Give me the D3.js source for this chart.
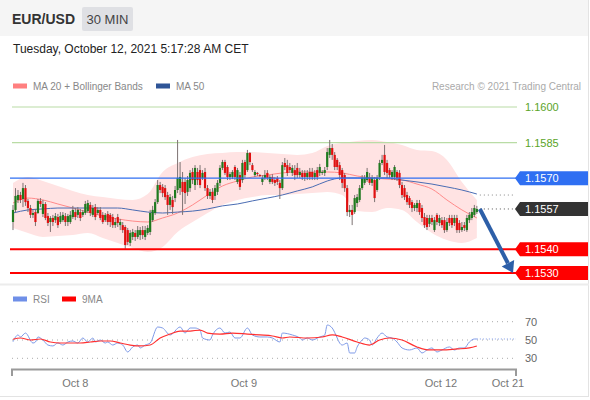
<!DOCTYPE html>
<html>
<head>
<meta charset="utf-8">
<script src="https://cdn.jsdelivr.net/npm/d3@7"></script>
<style>
  body { margin: 0; background: #fff; }
  svg text { font-family: "Liberation Sans", Arial, sans-serif; }
</style>
</head>
<body>
<div id="chart"></div>
<script>
// 30 min candles, [open, high, low, close]
var candles = [
  [1.15515,1.15587,1.15481,1.15566],[1.15566,1.15658,1.15557,1.15625],[1.15608,1.15650,1.15595,1.15629],[1.15629,1.15642,1.15595,1.15608],
  [1.15612,1.15680,1.15578,1.15658],[1.15658,1.15671,1.15583,1.15599],[1.15604,1.15612,1.15557,1.15574],[1.15574,1.15587,1.15532,1.15545],
  [1.15545,1.15566,1.15532,1.15553],[1.15557,1.15570,1.15498,1.15515],[1.15553,1.15612,1.15549,1.15604],[1.15604,1.15616,1.15578,1.15591],
  [1.15549,1.15608,1.15536,1.15591],[1.15591,1.15599,1.15523,1.15532],[1.15540,1.15553,1.15498,1.15511],[1.15515,1.15540,1.15473,1.15532],
  [1.15532,1.15545,1.15498,1.15515],[1.15523,1.15553,1.15511,1.15540],[1.15536,1.15549,1.15490,1.15502],[1.15515,1.15557,1.15507,1.15540],
  [1.15523,1.15557,1.15515,1.15545],[1.15540,1.15553,1.15498,1.15515],[1.15515,1.15549,1.15498,1.15540],[1.15515,1.15561,1.15507,1.15545],
  [1.15536,1.15583,1.15528,1.15566],[1.15557,1.15574,1.15523,1.15536],[1.15545,1.15578,1.15532,1.15566],[1.15557,1.15570,1.15519,1.15532],
  [1.15545,1.15566,1.15536,1.15557],[1.15553,1.15604,1.15545,1.15591],[1.15561,1.15608,1.15553,1.15595],[1.15587,1.15599,1.15540,1.15553],
  [1.15545,1.15587,1.15536,1.15574],[1.15578,1.15591,1.15523,1.15536],[1.15553,1.15578,1.15545,1.15566],[1.15566,1.15578,1.15523,1.15532],
  [1.15545,1.15557,1.15507,1.15515],[1.15523,1.15553,1.15515,1.15545],[1.15549,1.15561,1.15502,1.15515],[1.15545,1.15553,1.15494,1.15515],
  [1.15536,1.15549,1.15490,1.15502],[1.15502,1.15532,1.15490,1.15515],[1.15536,1.15549,1.15494,1.15511],[1.15502,1.15528,1.15481,1.15515],
  [1.15502,1.15515,1.15469,1.15481],[1.15494,1.15502,1.15397,1.15418],[1.15481,1.15490,1.15418,1.15431],[1.15427,1.15481,1.15414,1.15469],
  [1.15452,1.15486,1.15439,1.15473],[1.15469,1.15481,1.15435,1.15452],[1.15452,1.15498,1.15443,1.15481],[1.15460,1.15494,1.15439,1.15481],
  [1.15481,1.15498,1.15443,1.15460],[1.15452,1.15498,1.15439,1.15481],[1.15469,1.15502,1.15460,1.15490],[1.15473,1.15566,1.15460,1.15553],
  [1.15523,1.15583,1.15515,1.15566],[1.15553,1.15612,1.15545,1.15599],[1.15599,1.15692,1.15591,1.15671],[1.15671,1.15684,1.15637,1.15650],
  [1.15663,1.15675,1.15620,1.15637],[1.15658,1.15671,1.15608,1.15620],[1.15629,1.15642,1.15545,1.15587],[1.15587,1.15633,1.15566,1.15620],
  [1.15608,1.15625,1.15549,1.15578],[1.15616,1.15667,1.15599,1.15650],[1.15650,1.15861,1.15637,1.15701],[1.15658,1.15768,1.15629,1.15705],
  [1.15684,1.15726,1.15545,1.15642],[1.15684,1.15701,1.15591,1.15637],[1.15642,1.15709,1.15625,1.15692],[1.15658,1.15734,1.15642,1.15722],
  [1.15726,1.15743,1.15675,1.15692],[1.15671,1.15755,1.15650,1.15743],[1.15726,1.15743,1.15671,1.15692],[1.15734,1.15755,1.15658,1.15671],
  [1.15701,1.15734,1.15692,1.15722],[1.15726,1.15743,1.15646,1.15658],[1.15658,1.15671,1.15612,1.15625],[1.15625,1.15654,1.15612,1.15642],
  [1.15642,1.15658,1.15595,1.15608],[1.15625,1.15671,1.15608,1.15658],[1.15642,1.15692,1.15629,1.15680],[1.15680,1.15755,1.15667,1.15743],
  [1.15743,1.15777,1.15734,1.15768],[1.15768,1.15777,1.15713,1.15722],[1.15747,1.15755,1.15692,1.15705],[1.15705,1.15726,1.15692,1.15717],
  [1.15705,1.15734,1.15696,1.15726],[1.15747,1.15755,1.15692,1.15705],[1.15684,1.15743,1.15675,1.15734],[1.15713,1.15726,1.15650,1.15663],
  [1.15692,1.15777,1.15680,1.15764],[1.15768,1.15777,1.15701,1.15713],[1.15734,1.15819,1.15726,1.15806],[1.15806,1.15810,1.15755,1.15768],
  [1.15755,1.15764,1.15726,1.15734],[1.15713,1.15734,1.15705,1.15726],[1.15722,1.15726,1.15709,1.15717],[1.15713,1.15717,1.15705,1.15709],
  [1.15684,1.15713,1.15671,1.15701],[1.15701,1.15734,1.15692,1.15713],[1.15722,1.15734,1.15692,1.15701],[1.15684,1.15713,1.15675,1.15705],
  [1.15705,1.15717,1.15675,1.15684],[1.15692,1.15705,1.15667,1.15680],[1.15701,1.15709,1.15671,1.15684],[1.15680,1.15692,1.15612,1.15658],
  [1.15658,1.15768,1.15650,1.15755],[1.15764,1.15785,1.15734,1.15747],[1.15755,1.15777,1.15709,1.15722],[1.15747,1.15764,1.15722,1.15734],
  [1.15722,1.15755,1.15709,1.15743],[1.15734,1.15755,1.15692,1.15713],[1.15743,1.15764,1.15701,1.15713],[1.15713,1.15743,1.15701,1.15726],
  [1.15722,1.15734,1.15692,1.15705],[1.15722,1.15734,1.15688,1.15705],[1.15705,1.15734,1.15692,1.15722],[1.15726,1.15743,1.15692,1.15705],
  [1.15726,1.15743,1.15692,1.15705],[1.15705,1.15734,1.15692,1.15722],[1.15734,1.15747,1.15692,1.15705],[1.15722,1.15760,1.15709,1.15747],
  [1.15722,1.15734,1.15713,1.15726],[1.15722,1.15747,1.15709,1.15734],[1.15747,1.15827,1.15734,1.15810],[1.15798,1.15861,1.15785,1.15827],
  [1.15827,1.15844,1.15777,1.15798],[1.15798,1.15810,1.15734,1.15747],[1.15777,1.15785,1.15734,1.15747],[1.15755,1.15768,1.15692,1.15713],
  [1.15734,1.15743,1.15658,1.15680],[1.15713,1.15722,1.15642,1.15658],[1.15658,1.15671,1.15540,1.15557],[1.15557,1.15587,1.15536,1.15566],
  [1.15566,1.15587,1.15502,1.15545],[1.15557,1.15629,1.15549,1.15616],[1.15595,1.15633,1.15578,1.15620],[1.15608,1.15671,1.15599,1.15658],
  [1.15658,1.15713,1.15650,1.15701],[1.15680,1.15713,1.15671,1.15701],[1.15692,1.15743,1.15684,1.15726],[1.15701,1.15722,1.15671,1.15680],
  [1.15680,1.15713,1.15667,1.15701],[1.15692,1.15705,1.15599,1.15616],[1.15650,1.15713,1.15642,1.15701],[1.15705,1.15777,1.15692,1.15764],
  [1.15764,1.15798,1.15755,1.15777],[1.15798,1.15840,1.15713,1.15726],[1.15764,1.15777,1.15701,1.15722],[1.15734,1.15743,1.15701,1.15713],
  [1.15705,1.15734,1.15692,1.15726],[1.15705,1.15755,1.15692,1.15747],[1.15726,1.15734,1.15688,1.15701],[1.15722,1.15734,1.15658,1.15671],
  [1.15671,1.15684,1.15616,1.15629],[1.15658,1.15671,1.15608,1.15620],[1.15629,1.15642,1.15587,1.15599],[1.15616,1.15625,1.15574,1.15587],
  [1.15599,1.15608,1.15557,1.15574],[1.15574,1.15595,1.15561,1.15587],[1.15574,1.15608,1.15557,1.15595],[1.15595,1.15608,1.15545,1.15557],
  [1.15574,1.15587,1.15515,1.15532],[1.15536,1.15553,1.15490,1.15502],[1.15532,1.15545,1.15481,1.15494],[1.15507,1.15545,1.15494,1.15532],
  [1.15532,1.15545,1.15502,1.15515],[1.15481,1.15536,1.15473,1.15523],[1.15545,1.15553,1.15502,1.15515],[1.15511,1.15545,1.15498,1.15532],
  [1.15523,1.15536,1.15490,1.15502],[1.15523,1.15536,1.15469,1.15481],[1.15481,1.15532,1.15473,1.15515],[1.15532,1.15545,1.15498,1.15511],
  [1.15532,1.15545,1.15490,1.15502],[1.15511,1.15545,1.15498,1.15532],[1.15532,1.15545,1.15469,1.15481],[1.15511,1.15523,1.15469,1.15481],
  [1.15481,1.15515,1.15473,1.15494],[1.15502,1.15515,1.15477,1.15490],[1.15481,1.15545,1.15473,1.15532],[1.15523,1.15557,1.15511,1.15545],
  [1.15532,1.15574,1.15523,1.15557],[1.15545,1.15587,1.15536,1.15574],[1.15557,1.15583,1.15549,1.15570]
];

// indicators read every 6 candles
var indStep = 6;
var ma20 = [1.15595,1.15616,1.15608,1.15591,1.15574,1.15557,1.15540,1.15528,1.15519,1.15515,1.15532,1.15553,1.15587,1.15629,1.15667,1.15688,
            1.15705,1.15713,1.15722,1.15726,1.15726,1.15726,1.15722,1.15709,1.15701,1.15696,1.15692,1.15675,1.15654,1.15608,1.15566,1.15532];
var ma50 = [1.15553,1.15566,1.15570,1.15574,1.15574,1.15574,1.15574,1.15574,1.15566,1.15557,1.15553,1.15557,1.15561,1.15570,1.15583,1.15591,
            1.15604,1.15616,1.15629,1.15646,1.15663,1.15688,1.15701,1.15701,1.15701,1.15701,1.15692,1.15684,1.15675,1.15663,1.15650,1.15633];
var bbUpper = [1.15680,1.15705,1.15688,1.15667,1.15646,1.15629,1.15620,1.15612,1.15608,1.15633,1.15726,1.15764,1.15789,1.15802,1.15806,1.15810,
               1.15810,1.15806,1.15802,1.15798,1.15806,1.15836,1.15848,1.15857,1.15861,1.15852,1.15840,1.15819,1.15814,1.15777,1.15684,1.15608];
var bbLower = [1.15490,1.15469,1.15452,1.15456,1.15460,1.15469,1.15448,1.15427,1.15405,1.15389,1.15410,1.15473,1.15515,1.15553,1.15587,1.15608,
               1.15620,1.15629,1.15629,1.15633,1.15637,1.15642,1.15629,1.15561,1.15557,1.15574,1.15566,1.15515,1.15469,1.15439,1.15427,1.15448];

// [candle index, value]
var rsi = [[0,48.1],[2,55.5],[3,53.3],[5,57.6],[8,46.7],[9,47.8],[10,53.3],[12,50],[14,44.5],[16,43.5],[18,46.7],[20,44.5],[22,47.8],
  [24,48.9],[26,46.7],[28,52.2],[30,47.8],[32,52.2],[33,47.8],[35,50],[37,46.7],[38,47.8],[40,44.5],[42,46.7],[44,44.5],[46,36.9],
  [48,42.4],[50,44.5],[51,41.3],[53,44.5],[55,46.7],[58,64.2],[60,63.1],[63,55.5],[67,64.2],[69,57.6],[71,63.1],[73,63.1],[75,60.9],
  [76,52.2],[79,50],[80,55.5],[83,63.1],[85,57.6],[87,58.7],[89,52.2],[91,52.2],[94,63.1],[96,55.5],[99,53.3],[102,53.3],[104,52.2],
  [107,47.8],[108,57.6],[112,55.5],[115,52.2],[116,50],[118,52.2],[120,50],[123,53.3],[125,55.5],[126,66.4],[128,63.1],[130,52.2],
  [131,46.7],[132,44.5],[134,46.7],[135,35.8],[137,35.8],[138,42.4],[140,50],[141,52.2],[143,50],[144,44.5],[146,52.2],[148,57.6],
  [150,53.3],[152,52.2],[154,47.8],[156,41.3],[159,39.1],[162,41.3],[164,35.8],[166,39.1],[168,41.3],[170,36.9],[172,39.1],[175,42.4],
  [177,39.1],[179,41.3],[181,41.3],[183,47.8],[185,51.1],[186,51.1]];
var rsiMa = [[0,50.8],[3,52.2],[7,50],[11,51.1],[15,47.8],[19,46.7],[23,46.7],[27,46.7],[31,47.8],[35,48.9],[39,48.9],[43,46.7],
  [47,44.5],[51,43.5],[55,44.5],[59,52.2],[63,56.5],[67,59.8],[71,59.8],[75,60.9],[78,57.6],[83,56.5],[88,57.6],[94,56.5],[99,55.5],
  [104,54.4],[108,52.2],[111,53.3],[118,52.2],[124,53.3],[128,55.5],[132,53.3],[138,47.8],[143,44.5],[147,50],[151,52.2],[156,50],
  [162,42.4],[167,39.1],[172,39.1],[178,40.2],[183,41.3],[186,43.5]];

var greenLevels = [1.1600, 1.1585];
var pivot = 1.1570;
var lastPrice = 1.1557;
var targets = [1.1540, 1.1530];
var rsiLevels = [70, 50, 30];
var dateTicks = [[25, "Oct 8"], [92.6, "Oct 9"], [171.6, "Oct 12"], [201.7, "Oct 21"]];

var W = 590, H = 400;
var svg = d3.select("#chart").append("svg").attr("width", W).attr("height", H);

var x = d3.scaleLinear().domain([-0.4, 201.7]).range([12, 516]);
var y = d3.scaleLinear().domain([1.1530, 1.1600]).range([273, 107]);
var yr = d3.scaleLinear().domain([30, 70]).range([358.3, 321.7]);

// frame
svg.append("rect").attr("x", 0).attr("y", 0).attr("width", 589).attr("height", 36).attr("fill", "#f5f5f5");
svg.append("line").attr("x1", 588.5).attr("x2", 588.5).attr("y1", 0).attr("y2", 397).attr("stroke", "#e3e3e3");
svg.append("line").attr("x1", 0).attr("x2", 589).attr("y1", 396.5).attr("y2", 396.5).attr("stroke", "#e3e3e3");
svg.append("line").attr("x1", 0).attr("x2", 589).attr("y1", 284.5).attr("y2", 284.5).attr("stroke", "#ececec").attr("stroke-width", 2);

svg.append("text").attr("x", 12).attr("y", 24).attr("font-size", 14).attr("font-weight", "bold").attr("fill", "#333").text("EUR/USD");
svg.append("rect").attr("x", 82).attr("y", 7).attr("width", 51).attr("height", 24).attr("rx", 2).attr("fill", "#dfe0e4");
svg.append("text").attr("x", 107.5).attr("y", 24).attr("text-anchor", "middle").attr("font-size", 13).attr("fill", "#444").text("30 MIN");
svg.append("text").attr("x", 13).attr("y", 53).attr("font-size", 12).attr("fill", "#222").text("Tuesday, October 12, 2021 5:17:28 AM CET");

// legends
function legend(x0, yy, color, label) {
  svg.append("rect").attr("x", x0).attr("y", yy - 2.5).attr("width", 14).attr("height", 5).attr("fill", color);
  svg.append("text").attr("x", x0 + 20).attr("y", yy + 3.5).attr("font-size", 10).attr("fill", "#888").text(label);
}
legend(13, 86, "#ff8080", "MA 20 + Bollinger Bands");
legend(156, 86, "#2f5597", "MA 50");
svg.append("text").attr("x", 581).attr("y", 89.5).attr("text-anchor", "end").attr("font-size", 10).attr("fill", "#aaa")
  .text("Research \u00a9 2021 Trading Central");

// bollinger band
var area = d3.area().curve(d3.curveMonotoneX)
  .x(function (d, i) { return x(i * indStep); })
  .y0(function (d, i) { return y(bbLower[i]); })
  .y1(function (d) { return y(d); });
svg.append("path").attr("d", area(bbUpper)).attr("fill", "#ffe3e3");

// level lines
greenLevels.forEach(function (v) {
  svg.append("line").attr("x1", 12).attr("x2", 517).attr("y1", y(v)).attr("y2", y(v)).attr("stroke", "#b9dca5").attr("stroke-width", 1.2);
  svg.append("text").attr("x", 525).attr("y", y(v) + 4).attr("font-size", 11).attr("fill", "#5aa428").text(v.toFixed(4));
});

var ind = d3.line().curve(d3.curveMonotoneX)
  .x(function (d, i) { return x(i * indStep); })
  .y(function (d) { return y(d); });
svg.append("path").attr("d", ind(ma20)).attr("fill", "none").attr("stroke", "#ff8a8a").attr("stroke-width", 1);
svg.append("path").attr("d", ind(ma50)).attr("fill", "none").attr("stroke", "#4a6cb3").attr("stroke-width", 1);

// candles
var g = svg.append("g");
g.selectAll("line.wick").data(candles).enter().append("line")
  .attr("x1", function (d, i) { return x(i); }).attr("x2", function (d, i) { return x(i); })
  .attr("y1", function (d) { return y(d[1]); }).attr("y2", function (d) { return y(d[2]); })
  .attr("stroke", "#7d7272").attr("stroke-width", 1);
g.selectAll("rect.body").data(candles).enter().append("rect")
  .attr("x", function (d, i) { return x(i) - 1.1; })
  .attr("width", 2.2)
  .attr("y", function (d) { return y(Math.max(d[0], d[3])); })
  .attr("height", function (d) { return Math.max(1, Math.abs(y(d[0]) - y(d[3]))); })
  .attr("fill", function (d) { return d[3] >= d[0] ? "#1f7a1f" : "#e01010"; });

var lastI = candles.length - 1;

// pivot + targets
svg.append("line").attr("x1", 10).attr("x2", 517).attr("y1", y(pivot)).attr("y2", y(pivot)).attr("stroke", "#2f6ff2").attr("stroke-width", 1.3);
targets.forEach(function (v) {
  svg.append("line").attr("x1", 10).attr("x2", 517).attr("y1", y(v)).attr("y2", y(v)).attr("stroke", "#ff0000").attr("stroke-width", 2);
});

// dotted projections
svg.append("line").attr("x1", x(lastI) + 3).attr("x2", 515).attr("y1", y(ma50[ma50.length - 1]) + 1).attr("y2", y(ma50[ma50.length - 1]) + 1)
  .attr("stroke", "#888").attr("stroke-dasharray", "1,3");
svg.append("line").attr("x1", x(lastI) + 3).attr("x2", 515).attr("y1", y(lastPrice)).attr("y2", y(lastPrice))
  .attr("stroke", "#555").attr("stroke-dasharray", "1,3");

// price tags
function tag(v, color) {
  var cy = y(v);
  svg.append("path")
    .attr("d", "M515," + cy + " L520," + (cy - 7) + " L588," + (cy - 7) + " L588," + (cy + 7) + " L520," + (cy + 7) + " Z")
    .attr("fill", color);
  svg.append("text").attr("x", 525).attr("y", cy + 4).attr("font-size", 11).attr("fill", "#fff").text(v.toFixed(4));
}
tag(pivot, "#2f6ff2");
tag(lastPrice, "#333333");
targets.forEach(function (v) { tag(v, "#ff0000"); });

// forecast arrow
var ax0 = x(lastI) + 3, ay0 = y(lastPrice), ax1 = 513, ay1 = y(targets[1]);
var ang = Math.atan2(ay1 - ay0, ax1 - ax0);
var hx = ax1 - 11 * Math.cos(ang), hy = ay1 - 11 * Math.sin(ang);
svg.append("line").attr("x1", ax0).attr("y1", ay0).attr("x2", hx).attr("y2", hy)
  .attr("stroke", "#2d5fa8").attr("stroke-width", 4);
svg.append("path")
  .attr("d", "M" + ax1 + "," + ay1 +
    " L" + (hx + 7 * Math.sin(ang)) + "," + (hy - 7 * Math.cos(ang)) +
    " L" + (hx - 7 * Math.sin(ang)) + "," + (hy + 7 * Math.cos(ang)) + " Z")
  .attr("fill", "#2d5fa8");

// RSI panel
legend(13, 299, "#6f8fe8", "RSI");
legend(62, 299, "#ff0000", "9MA");

rsiLevels.forEach(function (v) {
  svg.append("line").attr("x1", 12).attr("x2", 515).attr("y1", yr(v)).attr("y2", yr(v))
    .attr("stroke", "#aaa").attr("stroke-dasharray", "1,4");
  svg.append("text").attr("x", 525).attr("y", yr(v) + 4).attr("font-size", 11).attr("fill", "#666").text(v);
});

var rline = d3.line().curve(d3.curveMonotoneX)
  .x(function (d) { return x(d[0]); })
  .y(function (d) { return yr(d[1]); });
svg.append("path").attr("d", rline(rsi)).attr("fill", "none").attr("stroke", "#7f9be8").attr("stroke-width", 1);
svg.append("line").attr("x1", x(lastI)).attr("x2", 516).attr("y1", yr(rsi[rsi.length - 1][1])).attr("y2", yr(rsi[rsi.length - 1][1]))
  .attr("stroke", "#7f9be8").attr("stroke-dasharray", "1,2");
svg.append("path").attr("d", rline(rsiMa)).attr("fill", "none").attr("stroke", "#ff3030").attr("stroke-width", 1.2);

// time axis
svg.append("path").attr("d", "M12,376 L12,369.5 L516,369.5 L516,376").attr("fill", "none").attr("stroke", "#9a9a9a").attr("stroke-width", 2);
svg.selectAll("text.date").data(dateTicks).enter().append("text")
  .attr("x", function (d) { return d[0] > 200 ? 508 : x(d[0]); })
  .attr("y", 386.5).attr("text-anchor", "middle").attr("font-size", 11).attr("fill", "#777")
  .text(function (d) { return d[1]; });
</script>
</body>
</html>
